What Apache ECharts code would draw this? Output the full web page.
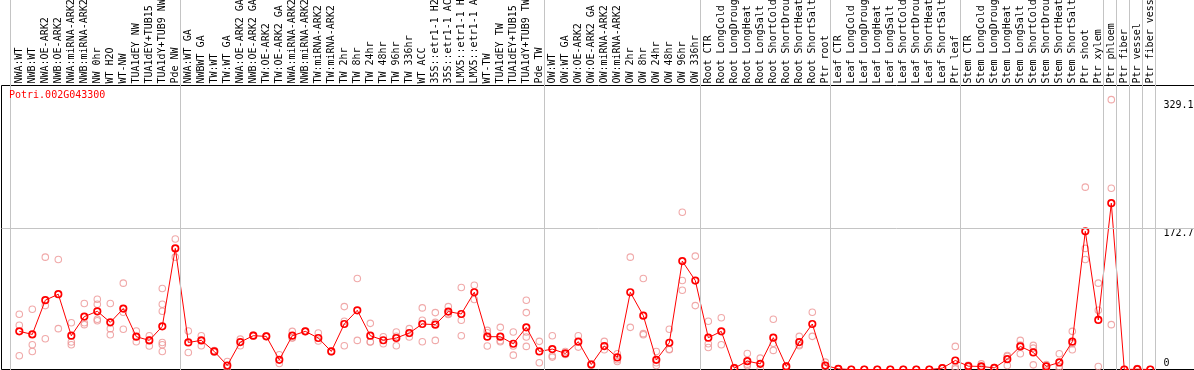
<!DOCTYPE html>
<html><head><meta charset="utf-8">
<script src="https://cdn.jsdelivr.net/npm/echarts@6/dist/echarts.min.js"></script>
<style>html,body{margin:0;padding:0;background:#fff}#c{width:1194px;height:370px}</style>
</head><body><div id="c"></div>
<script>
const geneId = 'Potri.002G043300';

const categories = [
  'NWA:WT','NWB:WT','NWA:OE-ARK2','NWB:OE-ARK2','NWA:miRNA-ARK2','NWB:miRNA-ARK2','NW 0hr','WT H2O','WT-NW',
  'TUA1dEY NW','TUA1dEY+TUB15','TUA1dY+TUB9 NW','Pde NW',
  'NWA:WT GA','NWBWT GA','TW:WT','TW:WT GA','NWA:OE-ARK2 GA','NWB:OE-ARK2 GA','TW:OE-ARK2','TW:OE-ARK2 GA',
  'NWA:miRNA-ARK2','NWB:miRNA-ARK2','TW:miRNA-ARK2','TW:miRNA-ARK2','TW 2hr','TW 8hr','TW 24hr','TW 48hr',
  'TW 96hr','TW 336hr','WT ACC','35S::etr1-1 H2O','35S::etr1-1 ACC','LMX5::etr1-1 H2O','LMX5::etr1-1 ACC',
  'WT-TW','TUA1dEY TW','TUA1dEY+TUB15','TUA1dY+TUB9 TW','Pde TW',
  'OW:WT','OW:WT GA','OW:OE-ARK2','OW:OE-ARK2 GA','OW:miRNA-ARK2','OW:miRNA-ARK2','OW 2hr','OW 8hr','OW 24hr',
  'OW 48hr','OW 96hr','OW 336hr',
  'Root CTR','Root LongCold','Root LongDrought','Root LongHeat','Root LongSalt','Root ShortCold','Root ShortDrought',
  'Root ShortHeat','Root ShortSalt','Ptr root',
  'Leaf CTR','Leaf LongCold','Leaf LongDrought','Leaf LongHeat','Leaf LongSalt','Leaf ShortCold','Leaf ShortDrought',
  'Leaf ShortHeat','Leaf ShortSalt','Ptr leaf',
  'Stem CTR','Stem LongCold','Stem LongDrought','Stem LongHeat','Stem LongSalt','Stem ShortCold','Stem ShortDrought',
  'Stem ShortHeat','Stem ShortSalt','Ptr shoot','Ptr xylem','Ptr phloem','Ptr fiber','Ptr vessel','Ptr fiber vessel'
];

const means = [
  46.5, 42.8, 84.5, 91.8, 41.2, 64.5, 71.0, 57.5, 74.3, 40.0, 35.5, 52.6, 147.7,
  33.0, 35.5, 22.0, 4.9, 33.5, 41.2, 40.4, 11.8, 41.2, 46.5, 38.4, 22.0, 55.5, 72.2, 41.2, 35.7,
  38.4, 44.5, 55.5, 54.7, 70.6, 67.7, 94.2, 40.0, 40.0, 31.4, 51.4, 22.0,
  24.9, 19.6, 33.9, 6.1, 28.6, 14.7, 94.2, 65.7, 11.8, 32.6, 132.2, 108.5,
  38.8, 46.5, 1.6, 10.2, 6.9, 38.8, 3.7, 33.5, 55.5, 4.9,
  0.8, 0, 0, 0, 0, 0, 0, 0, 1.6, 11.0,
  4.1, 3.7, 2.0, 12.6, 28.2, 20.8, 3.7, 8.6, 33.9, 168.5, 60.4, 202.8, 0, 0.4, 0
];

const replicates = [
  [67.3, 53.9, 16.7], [73.4, 30.2, 22.0], [137.0, 77.9, 37.5], [134.2, 49.8], [57.1, 33.5, 30.2],
  [80.4, 57.1, 54.7], [85.7, 79.6, 61.2, 59.5], [80.4, 49.8, 42.4], [105.3, 69.8, 49.0], [46.9, 33.9],
  [41.2, 36.0, 28.6], [98.7, 79.6, 71.0, 33.0, 30.2, 22.0], [159.1, 137.0],
  [46.9, 20.8], [41.2, 29.0], [23.0, 21.0], [9.8, 3.7, 1.2], [37.1, 29.0], [42.0, 40.5], [41.0, 40.0],
  [18.0, 7.3], [46.5, 38.4, 38.7], [47.0, 46.0], [44.5, 34.7], [22.5, 21.5], [76.7, 58.8, 29.0],
  [111.0, 35.5], [56.3, 33.5, 33.8], [40.0, 31.4], [45.7, 40.5, 29.0], [49.8, 44.0, 39.6],
  [75.1, 60.0, 33.9], [69.4, 57.5, 35.5], [76.7, 68.1, 67.0], [100.0, 60.0, 41.2], [102.8, 85.3],
  [47.7, 44.9, 28.6], [51.4, 35.0, 33.9], [45.7, 28.6, 17.5], [84.5, 69.4, 45.7, 39.6, 28.2], [34.3, 8.2],
  [41.2, 16.7, 15.1], [22.0, 18.4], [41.2, 27.3], [7.0, 5.2], [34.3, 24.1], [19.2, 11.8, 9.8],
  [137.0, 51.4], [111.0, 43.7, 42.4], [22.0, 8.2, 4.9], [49.0, 24.7, 24.1], [191.8, 108.5, 96.7],
  [138.3, 77.9],
  [58.8, 31.4, 26.9], [63.2, 30.2], [2.4, 0.8], [19.6, 6.5, 4.5], [13.9, 0.8], [61.2, 32.0, 23.3],
  [4.5, 2.9], [40.4, 30.2, 29.0], [69.8, 40.4], [9.0, 2.9, 2.8],
  [1.0, 0.6], [0, 0], [0, 0], [0, 0], [0, 0], [0, 0], [0, 0], [0, 0], [2.0, 1.2], [28.2, 2.9, 0.8],
  [5.0, 3.2], [6.9, 2.9, 1.3], [2.5, 1.5], [17.1, 15.8, 4.9], [35.5, 29.9, 19.2], [29.4, 26.1, 5.7],
  [6.0, 4.5, 0.8], [19.2, 3.7, 0.8], [46.5, 31.5, 24.1], [222.4, 147.7, 134.2], [105.3, 72.2, 3.7],
  [329.1, 221.1, 54.7], [0, 0], [1.2, 0], [0, 0]
];

const yTickLabels = [172.7, 329.1];
const yZeroLabel = [0];
const horizontalGuides = [172.7];
const groupSeparators = [-0.68, 12.4, 40.4, 52.4, 62.4, 72.4, 83.4, 84.4, 85.4, 86.4, 87.4];

// ---- layout ----
const W = 1194, H = 370;
const gridLeft = 1.5, gridRight = -4, plotTop = 85.5, plotBottom = 0.5;
const firstX = 19.3, step = 13, pxPerUnit = 0.82;
const xMin = (gridLeft - firstX) / step;
const xMax = (W - gridRight - firstX) / step;
const yMax = (H - plotBottom - plotTop) / pxPerUnit;
const axisXpx = 1155.5;
const yOffset = axisXpx - (W - gridRight);
const FONT = 'DejaVu Sans Mono';

const repData = [];
replicates.forEach((arr, i) => arr.forEach(v => repData.push([i, v])));
const meanData = means.map((v, i) => [i, v]);

const chart = echarts.init(document.getElementById('c'), null, {renderer: 'canvas'});
chart.setOption({
  animation: false,
  backgroundColor: '#fff',
  title: {
    text: geneId, left: 9, top: 90, padding: 0,
    textStyle: {color: '#ff0000', fontSize: 10, fontWeight: 'normal', fontFamily: FONT}
  },
  grid: [
    {left: gridLeft, right: gridRight, top: plotTop, bottom: plotBottom, containLabel: false, outerBoundsMode: 'none',
     show: true, borderColor: '#000', borderWidth: 1, backgroundColor: 'rgba(0,0,0,0)'},
    {left: gridLeft, right: gridRight, top: 0, bottom: 0, containLabel: false, outerBoundsMode: 'none'}
  ],
  xAxis: [
    {type: 'value', gridIndex: 0, position: 'top', min: xMin, max: xMax,
     axisLine: {show: false}, axisTick: {show: false}, splitLine: {show: false},
     axisLabel: {
       customValues: categories.map((_, i) => i),
       formatter: v => categories[Math.round(v)],
       rotate: 90, margin: 2, color: '#000', fontSize: 10, fontFamily: FONT
     }},
    {type: 'value', gridIndex: 1, min: xMin, max: xMax, show: false}
  ],
  yAxis: [
    {type: 'value', gridIndex: 0, position: 'right', offset: yOffset, min: 0, max: yMax,
     axisLine: {show: false}, axisTick: {show: false}, splitLine: {show: false},
     axisLabel: {customValues: yTickLabels, margin: 8, verticalAlign: 'top', lineHeight: 12,
                 color: '#000', fontSize: 10, fontFamily: FONT}},
    {type: 'value', gridIndex: 0, position: 'right', offset: yOffset, min: 0, max: yMax,
     axisLine: {show: false}, axisTick: {show: false}, splitLine: {show: false},
     axisLabel: {customValues: yZeroLabel, margin: 8, verticalAlign: 'bottom', lineHeight: 12,
                 color: '#000', fontSize: 10, fontFamily: FONT}},
    {type: 'value', gridIndex: 1, min: 0, max: 1, show: false}
  ],
  series: [
    {
      name: 'separators', type: 'line', xAxisIndex: 1, yAxisIndex: 2, z: 1,
      data: [[xMin, 0]], showSymbol: false, lineStyle: {opacity: 0}, silent: true,
      markLine: {
        symbol: 'none', silent: true, label: {show: false}, animation: false,
        lineStyle: {color: '#c4c4c4', width: 1, type: 'solid'},
        emphasis: {disabled: true},
        data: groupSeparators.map(v => ({xAxis: v}))
      }
    },
    {
      name: 'replicates', type: 'scatter', xAxisIndex: 0, yAxisIndex: 0, z: 3,
      data: repData, symbol: 'circle', symbolSize: 6.5, clip: false,
      itemStyle: {color: 'rgba(0,0,0,0)', borderColor: '#ec9494', borderWidth: 1.1},
      markLine: {
        symbol: 'none', silent: true, label: {show: false}, animation: false,
        lineStyle: {color: '#c4c4c4', width: 1, type: 'solid'},
        emphasis: {disabled: true},
        data: horizontalGuides.map(v => ({yAxis: v}))
      }
    },
    {
      name: 'mean', type: 'line', xAxisIndex: 0, yAxisIndex: 0, z: 4,
      data: meanData, symbol: 'circle', symbolSize: 6.5, showAllSymbol: true, clip: false,
      lineStyle: {color: '#ff0000', width: 1},
      itemStyle: {color: 'rgba(0,0,0,0)', borderColor: '#ff0000', borderWidth: 1.7}
    }
  ]
});
</script></body></html>
